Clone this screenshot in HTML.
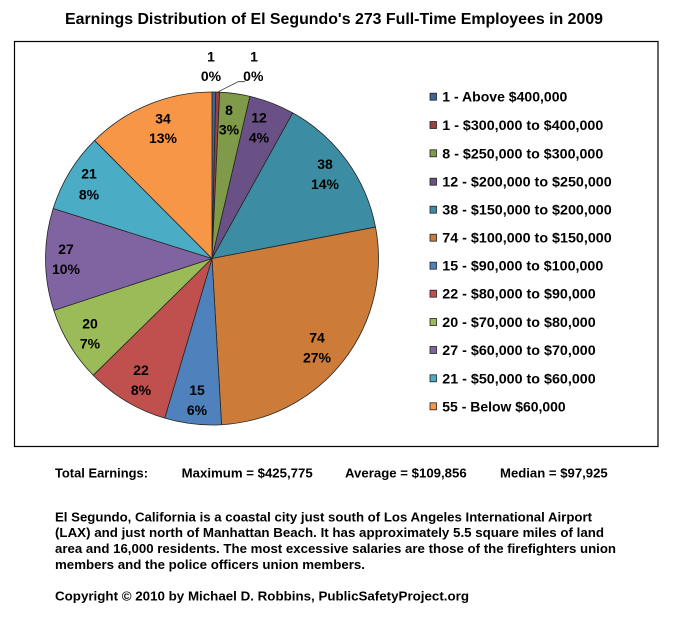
<!DOCTYPE html>
<html>
<head>
<meta charset="utf-8">
<style>
html,body{margin:0;padding:0;background:#fff;}
svg{display:block;}
text{font-family:"Liberation Sans",Arial,sans-serif;font-weight:bold;fill:#000;}
</style>
</head>
<body>
<svg width="675" height="617" viewBox="0 0 675 617" xmlns="http://www.w3.org/2000/svg">
<rect x="0" y="0" width="675" height="617" fill="#fff"/>
<!-- Title -->
<text x="65" y="24" font-size="16" textLength="538" lengthAdjust="spacingAndGlyphs">Earnings Distribution of El Segundo's 273 Full-Time Employees in 2009</text>
<!-- Frame -->
<rect x="14.5" y="41.5" width="643.5" height="405" fill="none" stroke="#000" stroke-width="1.2"/>

<!-- Pie -->
<g stroke="#262626" stroke-width="0.8" stroke-linejoin="round">
<path d="M212,258.5 L212,92 A166.5,166.5 0 0 1 215.83,92.04 Z" fill="#3C6598"/>
<path d="M212,258.5 L215.83,92.04 A166.5,166.5 0 0 1 219.66,92.18 Z" fill="#9E413E"/>
<path d="M212,258.5 L219.66,92.18 A166.5,166.5 0 0 1 249.98,96.39 Z" fill="#7F9A48"/>
<path d="M212,258.5 L249.98,96.39 A166.5,166.5 0 0 1 292.75,112.89 Z" fill="#695185"/>
<path d="M212,258.5 L292.75,112.89 A166.5,166.5 0 0 1 375.51,227.07 Z" fill="#3C8DA3"/>
<path d="M212,258.5 L375.51,227.07 A166.5,166.5 0 0 1 221.58,424.72 Z" fill="#CD7B39"/>
<path d="M212,258.5 L221.58,424.72 A166.5,166.5 0 0 1 164.75,418.16 Z" fill="#4F81BD"/>
<path d="M212,258.5 L164.75,418.16 A166.5,166.5 0 0 1 93.25,375.22 Z" fill="#C0504D"/>
<path d="M212,258.5 L93.25,375.22 A166.5,166.5 0 0 1 53.77,310.32 Z" fill="#9BBB59"/>
<path d="M212,258.5 L53.77,310.32 A166.5,166.5 0 0 1 53.18,208.51 Z" fill="#8064A2"/>
<path d="M212,258.5 L53.18,208.51 A166.5,166.5 0 0 1 94.61,140.43 Z" fill="#4BACC6"/>
<path d="M212,258.5 L94.61,140.43 A166.5,166.5 0 0 1 212,92 Z" fill="#F79646"/>
</g>
<!-- leader line -->
<polyline points="218.3,91.7 238.3,81.7 245,81.7" fill="none" stroke="#333" stroke-width="0.8"/>

<!-- Data labels -->
<g font-size="14" text-anchor="middle">
<text x="211" y="61.7">1</text><text x="211" y="81">0%</text>
<text x="254" y="61.7">1</text><text x="253.3" y="81">0%</text>
<text x="229" y="115">8</text><text x="229" y="134.3">3%</text>
<text x="259" y="122.3">12</text><text x="259" y="142.3">4%</text>
<text x="325" y="169">38</text><text x="325" y="189">14%</text>
<text x="317" y="342.3">74</text><text x="317" y="362.3">27%</text>
<text x="197" y="395">15</text><text x="197" y="415">6%</text>
<text x="141" y="375">22</text><text x="141" y="395">8%</text>
<text x="90" y="328.3">20</text><text x="90" y="348.3">7%</text>
<text x="66" y="254">27</text><text x="66" y="274">10%</text>
<text x="89" y="178.3">21</text><text x="89" y="199.3">8%</text>
<text x="163" y="123.3">34</text><text x="163" y="143">13%</text>
</g>

<!-- Legend -->
<g stroke="#222" stroke-width="0.8">
<rect x="430" y="93.2" width="6.5" height="7" fill="#3C6598"/>
<rect x="430" y="121.5" width="6.5" height="7" fill="#9E413E"/>
<rect x="430" y="149.8" width="6.5" height="7" fill="#7F9A48"/>
<rect x="430" y="178.2" width="6.5" height="7" fill="#695185"/>
<rect x="430" y="206.2" width="6.5" height="7" fill="#3C8DA3"/>
<rect x="430" y="234.2" width="6.5" height="7" fill="#CD7B39"/>
<rect x="430" y="262.2" width="6.5" height="7" fill="#4F81BD"/>
<rect x="430" y="290.2" width="6.5" height="7" fill="#C0504D"/>
<rect x="430" y="318.5" width="6.5" height="7" fill="#9BBB59"/>
<rect x="430" y="346.5" width="6.5" height="7" fill="#8064A2"/>
<rect x="430" y="374.8" width="6.5" height="7" fill="#4BACC6"/>
<rect x="430" y="402.8" width="6.5" height="7" fill="#F79646"/>
</g>
<g font-size="14">
<text x="442.3" y="101.7" textLength="125" lengthAdjust="spacingAndGlyphs">1 - Above $400,000</text>
<text x="442.3" y="130" textLength="161" lengthAdjust="spacingAndGlyphs">1 - $300,000 to $400,000</text>
<text x="442.3" y="158.3" textLength="161" lengthAdjust="spacingAndGlyphs">8 - $250,000 to $300,000</text>
<text x="442.3" y="186.7" textLength="169.4" lengthAdjust="spacingAndGlyphs">12 - $200,000 to $250,000</text>
<text x="442.3" y="214.7" textLength="169.4" lengthAdjust="spacingAndGlyphs">38 - $150,000 to $200,000</text>
<text x="442.3" y="242.7" textLength="169.4" lengthAdjust="spacingAndGlyphs">74 - $100,000 to $150,000</text>
<text x="442.3" y="270.7" textLength="161" lengthAdjust="spacingAndGlyphs">15 - $90,000 to $100,000</text>
<text x="442.3" y="298.7" textLength="153.4" lengthAdjust="spacingAndGlyphs">22 - $80,000 to $90,000</text>
<text x="442.3" y="327" textLength="153.4" lengthAdjust="spacingAndGlyphs">20 - $70,000 to $80,000</text>
<text x="442.3" y="355" textLength="153.4" lengthAdjust="spacingAndGlyphs">27 - $60,000 to $70,000</text>
<text x="442.3" y="383.3" textLength="153.4" lengthAdjust="spacingAndGlyphs">21 - $50,000 to $60,000</text>
<text x="442.3" y="411.3" textLength="123.4" lengthAdjust="spacingAndGlyphs">55 - Below $60,000</text>
</g>

<!-- Bottom text -->
<g font-size="13">
<text x="55" y="477.3" textLength="93" lengthAdjust="spacingAndGlyphs">Total Earnings:</text>
<text x="181.7" y="477.3" textLength="131" lengthAdjust="spacingAndGlyphs">Maximum = $425,775</text>
<text x="345" y="477.3" textLength="121.7" lengthAdjust="spacingAndGlyphs">Average = $109,856</text>
<text x="500" y="477.3" textLength="107.7" lengthAdjust="spacingAndGlyphs">Median = $97,925</text>
<text x="55" y="521.3" textLength="537" lengthAdjust="spacingAndGlyphs">El Segundo, California is a coastal city just south of Los Angeles International Airport</text>
<text x="55" y="537" textLength="549" lengthAdjust="spacingAndGlyphs">(LAX) and just north of Manhattan Beach. It has approximately 5.5 square miles of land</text>
<text x="55" y="553" textLength="561" lengthAdjust="spacingAndGlyphs">area and 16,000 residents. The most excessive salaries are those of the firefighters union</text>
<text x="55" y="569" textLength="310" lengthAdjust="spacingAndGlyphs">members and the police officers union members.</text>
<text x="55" y="600.6" textLength="414" lengthAdjust="spacingAndGlyphs">Copyright  © 2010 by Michael D. Robbins, PublicSafetyProject.org</text>
</g>
</svg>
</body>
</html>
